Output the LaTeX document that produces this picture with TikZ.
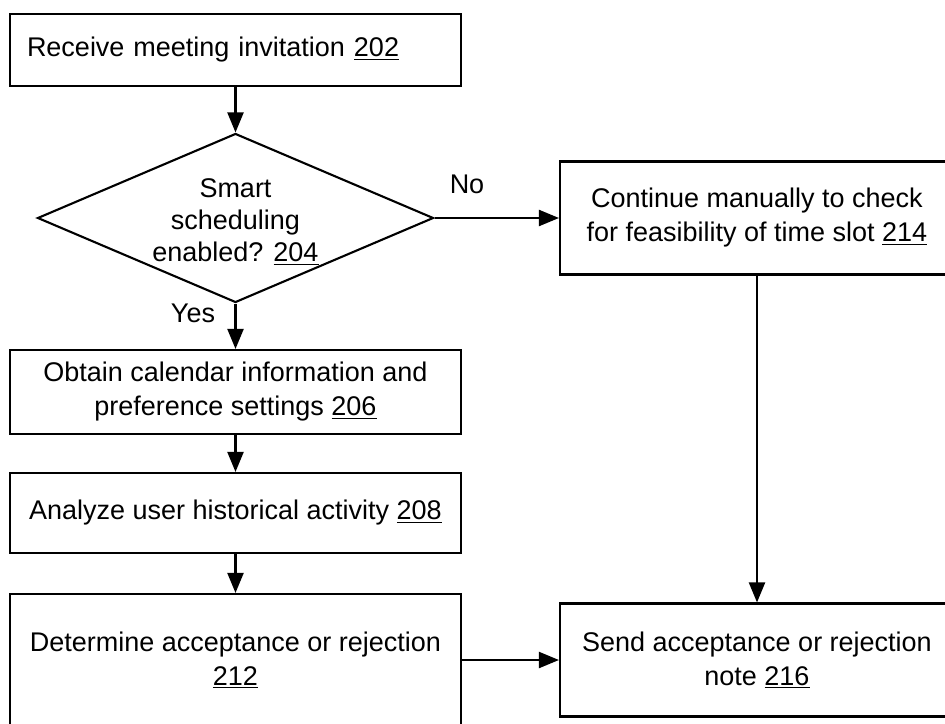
\documentclass[tikz,border=0pt]{standalone}
\usepackage{fontspec}
\setmainfont{Liberation Sans}
\usetikzlibrary{shapes.geometric,arrows.meta}

\begin{document}
\begin{tikzpicture}[
    every node/.style={font=\fontsize{19.2}{24.2}\selectfont},
    stepbox/.style={draw, line width=1.5pt, align=center, inner sep=0pt, minimum width=11.275cm},
    sidebox/.style={draw, line width=1.5pt, align=center, inner sep=0pt, minimum width=9.85cm, minimum height=2.825cm},
    flow/.style={line width=1.5pt, -{Triangle[length=0.5cm, width=0.4cm]}}
  ]
    \useasboundingbox (0,0) rectangle (23.625,-18.075);

    \node[stepbox, minimum height=1.8cm, text width=10.425cm, align=left, inner xsep=0.425cm] (b202) at (5.8875,-1.25) {Receive meeting invitation \underline{202}};
    \node[draw, diamond, line width=1.5pt, inner sep=0pt, aspect=2.34, minimum width=9.9cm, minimum height=4.225cm] (d204) at (5.8875,-5.45) {};
    \node[align=center, font=\fontsize{19.2}{22.8}\selectfont] (t204) at ([yshift=-0.1cm]d204.center) {Smart\\scheduling\\enabled? \underline{204}};
    \node[stepbox, minimum height=2.1cm] (b206) at (5.8875,-9.8) {Obtain calendar information and\\preference settings \underline{206}};
    \node[stepbox, minimum height=2.0cm] (b208) at (5.8875,-12.825) {Analyze user historical activity \underline{208}};
    \node[stepbox, minimum height=3.3cm] (b212) at (5.8875,-16.5) {Determine acceptance or rejection\\\underline{212}};
    \node[sidebox] (b214) at (18.925,-5.45) {Continue manually to check\\for feasibility of time slot \underline{214}};
    \node[sidebox] (b216) at (18.925,-16.5) {Send acceptance or rejection\\note \underline{216}};

    \node (yes) at (4.825,-7.825) {Yes};
    \node (no) at (11.675,-4.6) {No};

    \draw[flow] (b202) -- (d204);
    \draw[flow] (d204.south) -- (b206);
    \draw[flow] (b206) -- (b208);
    \draw[flow] (b208) -- (b212);
    \draw[flow] (d204.east) -- (b214.west);
    \draw[flow] (b214) -- (b216);
    \draw[flow] (b212) -- (b216);

  \end{tikzpicture}
\end{document}
